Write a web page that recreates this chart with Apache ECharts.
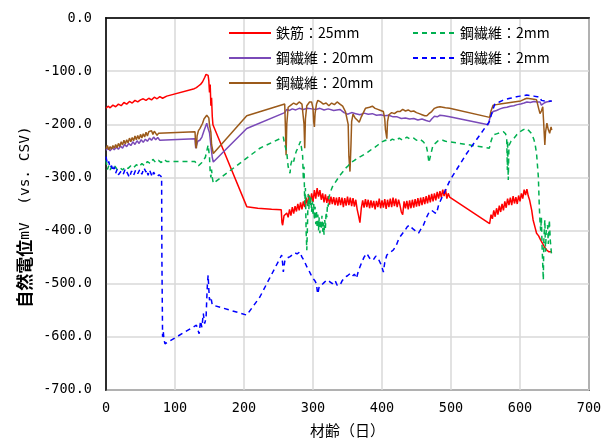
<!DOCTYPE html>
<html><head><meta charset="utf-8">
<script src="https://cdn.jsdelivr.net/npm/echarts@6/dist/echarts.min.js"></script>
<style>html,body{margin:0;padding:0;background:#fff}#c{width:609px;height:443px}</style>
</head><body><div id="c"></div>
<script>
const seriesNames = ['鉄筋：25mm', '鋼繊維：20mm', '鋼繊維：20mm ', '鋼繊維：2mm', '鋼繊維：2mm '];
const xTicks = [0, 100, 200, 300, 400, 500, 600, 700];
const yTicks = [0, -100, -200, -300, -400, -500, -600, -700];

const rebar25 = [[0,-170],[3,-166],[6,-169],[10,-164],[14,-167],[18,-162],[22,-165],[26,-159],[30,-162],[34,-157],[38,-160],[42,-155],[46,-158],[50,-154],[54,-152],[58,-155],[62,-151],[66,-154],[70,-149],[74,-152],[78,-148],[82,-151],[88,-147],[128,-133],[131,-131],[134,-128],[137,-125],[140,-120],[143,-112],[145,-106],[147,-103],[148,-108],[149,-118],[150,-140],[151,-125],[152,-165],[153,-150],[154,-185],[155,-201],[204,-355],[206,-356],[220,-358],[240,-360],[254,-361],[255,-385],[256,-390],[258,-372],[262,-367],[264,-375],[266,-360],[268,-372],[270,-356],[272,-368],[274,-354],[276,-364],[278,-350],[280,-362],[282,-347],[284,-360],[286,-345],[288,-356],[290,-338],[292,-353],[294,-333],[296,-348],[298,-330],[300,-346],[302,-324],[304,-340],[306,-320],[308,-336],[310,-324],[312,-342],[314,-330],[316,-347],[318,-332],[320,-348],[322,-335],[324,-351],[326,-336],[328,-350],[330,-337],[332,-352],[334,-338],[336,-353],[338,-337],[340,-352],[342,-338],[344,-356],[346,-339],[348,-353],[350,-336],[352,-352],[354,-338],[356,-354],[358,-339],[360,-355],[362,-342],[364,-360],[366,-372],[368,-385],[370,-358],[372,-343],[374,-357],[376,-341],[378,-356],[380,-342],[382,-358],[384,-343],[386,-357],[388,-344],[390,-360],[392,-344],[394,-356],[396,-340],[398,-358],[400,-343],[402,-357],[404,-341],[406,-359],[408,-342],[410,-356],[412,-340],[414,-356],[416,-338],[418,-354],[420,-340],[422,-356],[424,-342],[426,-352],[428,-365],[430,-370],[432,-345],[434,-358],[436,-344],[438,-360],[440,-343],[442,-358],[444,-342],[446,-357],[448,-341],[450,-355],[452,-339],[454,-354],[456,-338],[458,-352],[460,-337],[462,-350],[464,-335],[466,-349],[468,-333],[470,-347],[472,-331],[474,-345],[476,-330],[478,-343],[480,-327],[482,-340],[484,-326],[486,-338],[488,-323],[490,-335],[492,-322],[494,-340],[496,-330],[498,-337],[556,-387],[558,-370],[560,-378],[562,-362],[564,-374],[566,-358],[568,-370],[570,-353],[572,-365],[574,-350],[576,-362],[578,-345],[580,-357],[582,-340],[584,-352],[586,-338],[588,-352],[590,-335],[592,-349],[594,-337],[596,-350],[598,-334],[600,-345],[602,-330],[604,-340],[606,-323],[608,-333],[610,-322],[612,-335],[614,-343],[617,-362],[619,-380],[622,-395],[624,-405],[627,-410],[630,-418],[633,-425],[636,-432],[639,-437],[642,-440],[646,-440]];

const steel20a = [[0,-249],[3,-245],[6,-250],[9,-244],[12,-248],[15,-243],[18,-247],[21,-241],[24,-245],[27,-238],[30,-242],[33,-236],[36,-240],[39,-233],[42,-238],[45,-231],[48,-236],[51,-229],[54,-234],[57,-228],[60,-232],[63,-226],[66,-230],[69,-224],[72,-229],[75,-225],[78,-230],[129,-227],[130,-245],[131,-243],[133,-232],[136,-230],[139,-224],[142,-212],[144,-205],[146,-198],[148,-208],[150,-216],[152,-240],[154,-262],[155.5,-271],[204,-208],[259,-178],[262,-172],[266,-174],[270,-171],[275,-173],[280,-170],[286,-172],[292,-170],[298,-171],[304,-172],[310,-170],[316,-173],[322,-171],[330,-174],[339,-172],[345,-178],[350,-181],[356,-178],[362,-180],[368,-182],[374,-179],[380,-181],[386,-180],[392,-183],[398,-182],[404,-184],[410,-183],[416,-186],[422,-186],[428,-189],[434,-188],[440,-190],[446,-189],[452,-192],[458,-190],[464,-193],[469,-195],[472,-190],[476,-185],[480,-186],[484,-183],[490,-184],[498,-186],[554,-201],[556,-190],[558,-182],[561,-176],[566,-174],[571,-171],[576,-169],[581,-168],[586,-166],[591,-165],[596,-163],[601,-162],[606,-160],[610,-158],[615,-159],[620,-157],[625,-158],[629,-158],[631,-164],[633,-166],[635,-160],[638,-158],[642,-157],[646,-156]];

const steel20b = [[0,-246],[2,-240],[4,-248],[6,-242],[8,-247],[10,-240],[12,-245],[14,-238],[16,-244],[18,-236],[20,-242],[22,-233],[24,-239],[26,-230],[28,-237],[30,-229],[32,-235],[34,-226],[36,-233],[38,-225],[40,-231],[42,-222],[44,-229],[46,-221],[48,-228],[50,-219],[52,-226],[54,-218],[56,-224],[58,-215],[60,-222],[62,-214],[64,-217],[66,-212],[68,-219],[70,-213],[72,-216],[74,-221],[76,-217],[78,-219],[129,-214],[130,-240],[131,-245],[132,-222],[134,-212],[136,-208],[138,-205],[140,-198],[142,-190],[144,-192],[146,-183],[148,-180],[149,-188],[150,-201],[152,-215],[153,-238],[155.5,-255],[204,-184],[259,-162],[260,-205],[261,-258],[262,-200],[264,-168],[268,-164],[272,-160],[276,-163],[280,-158],[284,-162],[286,-161],[287,-200],[288,-245],[289,-190],[291,-165],[295,-158],[298,-158],[300,-170],[301,-195],[302,-205],[303,-180],[305,-162],[307,-155],[311,-158],[315,-162],[319,-160],[323,-165],[327,-160],[331,-163],[335,-158],[339,-162],[343,-166],[347,-176],[349,-178],[351,-200],[352,-260],[353.6,-289],[355,-240],[356,-195],[358,-181],[361,-188],[364,-192],[367,-196],[370,-186],[373,-178],[376,-170],[378,-167],[382,-168],[386,-166],[390,-170],[394,-172],[398,-174],[402,-176],[404,-190],[405,-210],[407,-227],[408,-195],[410,-182],[414,-178],[418,-180],[422,-176],[426,-176],[430,-172],[434,-175],[438,-173],[442,-176],[446,-175],[450,-178],[454,-180],[458,-182],[462,-184],[465,-184],[468,-180],[472,-176],[476,-170],[480,-168],[484,-167],[488,-168],[492,-169],[498,-170],[556,-187],[558,-175],[561,-164],[566,-163],[571,-162],[576,-161],[581,-160],[586,-159],[591,-158],[596,-157],[601,-156],[606,-153],[610,-151],[615,-152],[620,-153],[624,-154],[626,-153],[627,-170],[629,-180],[631,-175],[633,-167],[634,-190],[636,-239],[637,-215],[639,-198],[641,-210],[643,-217],[645,-205],[646,-211]];

const steel2a = [[0,-267],[2,-285],[4,-278],[6,-286],[8,-280],[10,-284],[13,-279],[16,-285],[20,-281],[24,-286],[28,-280],[32,-283],[36,-278],[40,-282],[44,-276],[48,-280],[52,-274],[56,-278],[60,-270],[64,-274],[68,-266],[72,-272],[76,-268],[80,-272],[84,-266],[88,-270],[129,-270],[131,-275],[134,-278],[136,-277],[139,-272],[142,-266],[144,-262],[146,-260],[147,-245],[148,-239],[149,-250],[150,-262],[151,-290],[152,-300],[153,-285],[154,-300],[155.5,-311],[223,-245],[257,-224],[259,-238],[262,-253],[264,-280],[266.7,-292],[268,-275],[270,-265],[272,-270],[274,-258],[276,-250],[278,-245],[280,-238],[282,-232],[283.6,-230],[285,-260],[286,-305],[287,-280],[288,-350],[289,-320],[290,-400],[291,-437],[292,-390],[293,-331],[294,-360],[295,-335],[296,-352],[297,-338],[298,-365],[299,-345],[300,-372],[301,-350],[302,-380],[303,-355],[304,-388],[305,-362],[306,-395],[307,-370],[308,-400],[309,-375],[310,-405],[311,-380],[312,-398],[313,-372],[314,-402],[315,-385],[316,-408],[317,-380],[318,-395],[319,-365],[320,-375],[321,-350],[322,-355],[323,-338],[324.6,-330],[328,-318],[332,-310],[336,-302],[339,-296],[343,-290],[347,-283],[351,-278],[355,-272],[360,-268],[365,-263],[370,-260],[375,-256],[380,-252],[385,-247],[390,-243],[395,-238],[400,-233],[405,-230],[410,-232],[415,-228],[420,-231],[425,-226],[430,-230],[436,-224],[441,-228],[446,-226],[450,-230],[455,-228],[460,-233],[464,-240],[466,-252],[468,-272],[469.6,-274],[471,-255],[474,-239],[478,-235],[482,-230],[484,-227],[488,-230],[492,-232],[498.6,-233],[555.6,-245],[558,-232],[561,-220],[566,-218],[571,-216],[576,-214],[579,-218],[580.7,-224],[581.7,-286],[582,-230],[583,-305],[584,-240],[587,-232],[590.8,-227],[595,-220],[600,-214],[605,-210],[609.7,-208],[613,-212],[617,-218],[620,-228],[621.7,-236],[624,-255],[626.6,-299],[628,-355],[629,-384],[630,-400],[631,-375],[632,-430],[633.8,-493],[634.5,-420],[636,-380],[637,-440],[638,-400],[640,-390],[641,-425],[642.5,-380],[644,-420],[646,-449]];

const steel2b = [[0,-261],[2,-275],[4,-270],[6,-282],[8,-278],[10,-288],[12,-280],[14,-292],[16,-285],[18,-295],[20,-296],[22,-288],[25,-294],[28,-284],[31,-292],[34,-300],[37,-288],[40,-296],[43,-286],[46,-293],[49,-285],[52,-294],[55,-282],[58,-290],[59,-286],[61,-296],[63,-286],[65,-292],[67,-299],[69,-290],[71,-295],[74,-298],[77,-295],[80.6,-299],[81,-450],[82,-600],[83,-590],[84,-605],[85.5,-613],[131,-578],[133,-586],[135,-594],[137,-570],[139,-582],[141,-556],[143,-575],[145,-565],[146,-530],[147,-500],[148,-484],[149,-510],[150,-531],[152,-525],[154,-540],[155.5,-537],[204,-559],[223,-525],[254.6,-446],[256,-462],[257,-478],[259,-458],[262,-452],[266.7,-449],[270,-446],[274,-442],[277,-444],[281,-440],[284,-450],[287,-456],[291,-468],[294,-475],[297,-483],[300,-490],[303,-495],[305,-500],[306,-512],[307,-519],[309,-505],[312,-503],[316,-498],[320,-493],[324,-496],[328,-500],[332,-494],[335,-503],[339,-503],[342,-495],[346,-488],[350,-485],[353.6,-481],[357,-486],[360,-482],[363,-490],[366,-475],[370,-462],[374,-450],[378,-443],[382,-452],[387,-456],[391,-448],[395,-454],[399,-465],[402,-478],[404,-460],[407,-446],[411,-442],[416,-437],[420,-430],[423,-420],[426,-412],[430,-405],[434,-398],[437,-392],[440.6,-390],[444,-396],[448,-400],[453,-405],[456,-398],[460,-390],[463,-380],[465,-374],[468,-366],[472,-362],[476,-366],[479,-368],[482,-352],[486,-340],[489,-333],[494,-318],[498.6,-305],[522.7,-255],[546.8,-211],[555.6,-195],[560,-175],[563.8,-161],[570,-158],[575,-155],[580,-153],[585.5,-151],[590,-150],[595,-148],[600,-147],[605,-146],[609.7,-145],[615,-146],[620,-147],[625,-148],[629,-148],[631,-155],[633.3,-158],[636,-156],[640,-157],[646,-156]];

const seriesData = [rebar25, steel20a, steel20b, steel2a, steel2b];
const colors = ['#ff0000', '#7a4ab8', '#9b5a1a', '#00b050', '#0000ff'];
const dashed = [false, false, false, true, true];

const chart = echarts.init(document.getElementById('c'), null, {renderer: 'canvas'});
const monoFont = '"DejaVu Sans Mono", monospace';
const cjkFont = '"Noto Sans CJK JP", sans-serif';

const legendCommon = {
  orient: 'vertical', itemWidth: 42, itemHeight: 14, itemGap: 11, padding: 0,
  itemStyle: {opacity: 0},
  textStyle: {fontFamily: cjkFont, fontSize: 14, color: '#000'},
  backgroundColor: 'transparent'
};

chart.setOption({
  animation: false,
  backgroundColor: '#fff',
  grid: {left: 106, right: 20, top: 18, bottom: 53, show: true, borderColor: '#000', borderWidth: 1.5, backgroundColor: 'transparent'},
  legend: [
    Object.assign({}, legendCommon, {left: 228, top: 26, data: [seriesNames[0], seriesNames[1], seriesNames[2]]}),
    Object.assign({}, legendCommon, {left: 412, top: 26, data: [seriesNames[3], seriesNames[4]]})
  ],
  xAxis: {
    type: 'value', min: xTicks[0], max: xTicks[xTicks.length - 1], interval: 100,
    name: '材齢（日）', nameLocation: 'middle', nameGap: 33,
    nameTextStyle: {fontFamily: cjkFont, fontSize: 15, color: '#000'},
    axisLine: {show: true, lineStyle: {color: '#000', width: 1.5}},
    axisTick: {show: false},
    axisLabel: {fontFamily: monoFont, fontSize: 13.5, color: '#000', margin: 12},
    splitLine: {show: true, lineStyle: {color: '#d9d9d9', width: 1.5}}
  },
  yAxis: {
    type: 'value', min: yTicks[yTicks.length - 1], max: yTicks[0], interval: 100,
    axisLine: {show: true, onZero: false, lineStyle: {color: '#000', width: 1.5}},
    axisTick: {show: false},
    axisLabel: {fontFamily: monoFont, fontSize: 13.5, color: '#000', margin: 14,
      formatter: v => v.toFixed(1)},
    splitLine: {show: true, lineStyle: {color: '#d9d9d9', width: 1.5}}
  },
  graphic: [{
    type: 'text',
    rotation: Math.PI / 2,
    x: 25, y: 217,
    style: {
      text: '{a|自然電位}{b|mV  (vs. CSV)}',
      rich: {
        a: {fontFamily: cjkFont, fontSize: 17, fill: '#000', fontWeight: 'bold'},
        b: {fontFamily: monoFont, fontSize: 14.5, fill: '#000'}
      },
      align: 'center', verticalAlign: 'middle'
    }
  }],
  series: seriesData.map((d, i) => ({
    name: seriesNames[i], type: 'line', data: d, symbol: 'none', showSymbol: false,
    color: colors[i],
    lineStyle: {color: colors[i], width: 1.5, type: dashed[i] ? [5, 4] : 'solid'},
    z: 2 + i
  }))
});
</script></body></html>
